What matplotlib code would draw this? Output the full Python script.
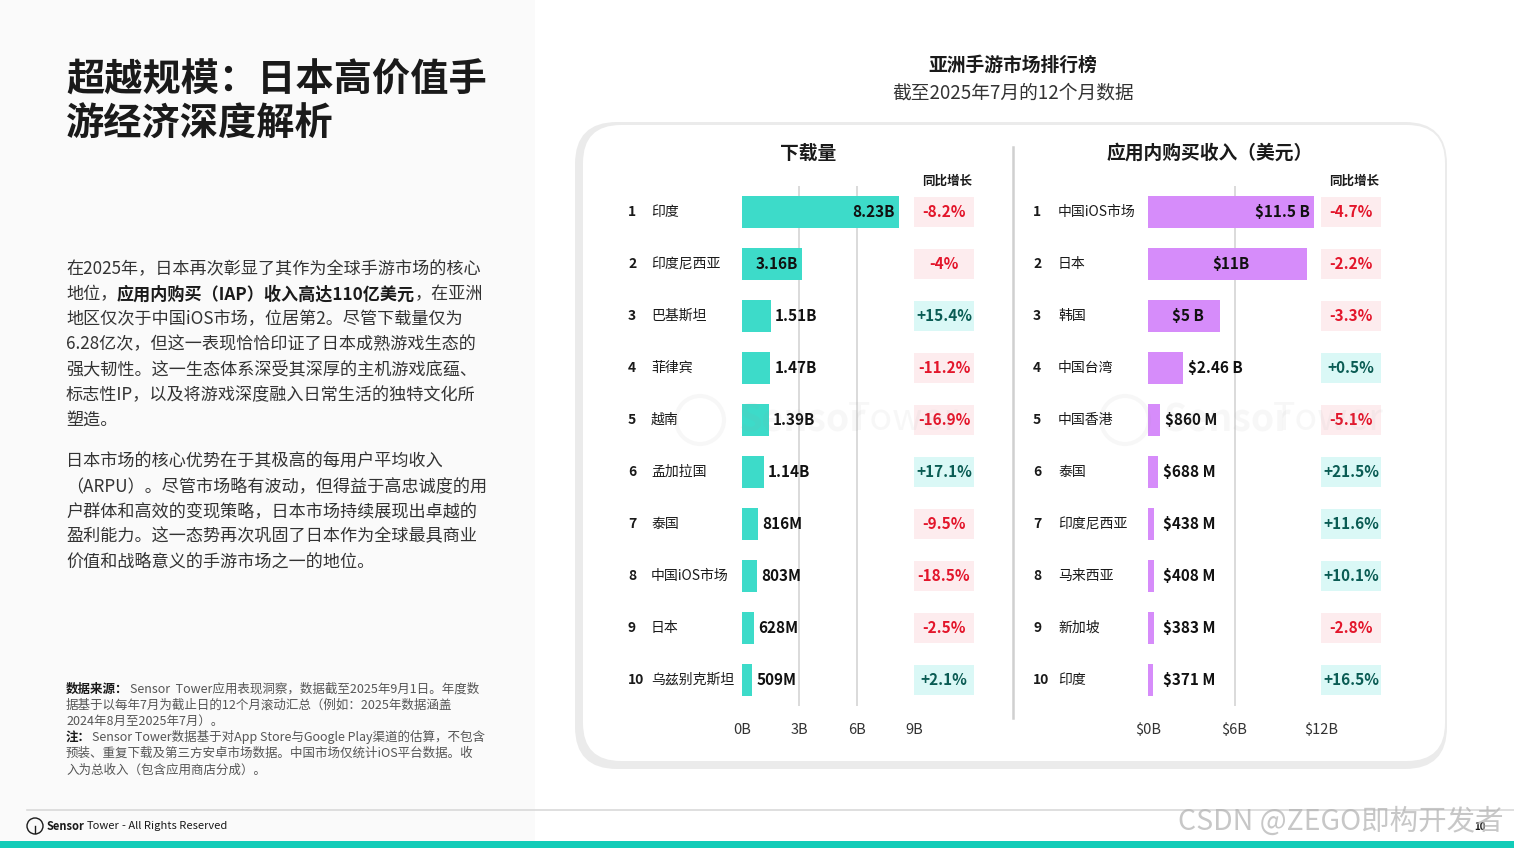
import numpy as np
import matplotlib
matplotlib.use("Agg")
import matplotlib.pyplot as plt
from matplotlib.patches import Rectangle, FancyBboxPatch, Circle
from matplotlib.transforms import blended_transform_factory

plt.rcParams['font.family'] = ['Noto Sans CJK SC', 'DejaVu Sans']

# ---- data ----
dl_names = ['印度', '印度尼西亚', '巴基斯坦', '菲律宾', '越南',
            '孟加拉国', '泰国', '中国iOS市场', '日本', '乌兹别克斯坦']
dl_values = [8.23, 3.16, 1.51, 1.47, 1.39, 1.14, 0.816, 0.803, 0.628, 0.509]
dl_labels = ['8.23B', '3.16B', '1.51B', '1.47B', '1.39B',
             '1.14B', '816M', '803M', '628M', '509M']
dl_yoy = [-8.2, -4.0, 15.4, -11.2, -16.9, 17.1, -9.5, -18.5, -2.5, 2.1]
dl_yoy_labels = ['-8.2%', '-4%', '+15.4%', '-11.2%', '-16.9%',
                 '+17.1%', '-9.5%', '-18.5%', '-2.5%', '+2.1%']
dl_ticks = [0, 3, 6, 9]
dl_tick_labels = ['0B', '3B', '6B', '9B']

rev_names = ['中国iOS市场', '日本', '韩国', '中国台湾', '中国香港',
             '泰国', '印度尼西亚', '马来西亚', '新加坡', '印度']
rev_values = [11.5, 11.0, 5.0, 2.46, 0.860, 0.688, 0.438, 0.408, 0.383, 0.371]
rev_labels = ['$11.5 B', '$11B', '$5 B', '$2.46 B', '$860 M',
              '$688 M', '$438 M', '$408 M', '$383 M', '$371 M']
rev_yoy = [-4.7, -2.2, -3.3, 0.5, -5.1, 21.5, 11.6, 10.1, -2.8, 16.5]
rev_yoy_labels = ['-4.7%', '-2.2%', '-3.3%', '+0.5%', '-5.1%',
                  '+21.5%', '+11.6%', '+10.1%', '-2.8%', '+16.5%']
rev_ticks = [0, 6, 12]
rev_tick_labels = ['$0B', '$6B', '$12B']

W, H = 1514, 848
TEAL = '#3ddbc9'
VIOLET = '#d68cfa'
NEG_BG, NEG_FG = '#fdecee', '#e3162b'
POS_BG, POS_FG = '#daf8f6', '#0a5c54'
DARK = '#1a1a1a'

fig = plt.figure(figsize=(W / 100, H / 100), dpi=100)
fig.patch.set_facecolor('white')
renderer = fig.canvas.get_renderer()

# background canvas in pixel coordinates
bg = fig.add_axes([0, 0, 1, 1], zorder=0)
bg.set_xlim(0, W)
bg.set_ylim(H, 0)
bg.axis('off')


def runs(x, y, parts, size, gap=0):
    # draw consecutive text pieces on one line, each starting where the last ended
    for text, weight, color in parts:
        t = bg.text(x, y, text, fontsize=size, fontweight=weight, color=color, va='center')
        x = x + t.get_window_extent(renderer=renderer).width + gap
    return x


bg.add_patch(Rectangle((0, 0), 535, 841, facecolor='#fafafa', edgecolor='none'))
bg.add_patch(Rectangle((0, 841), W, 7, facecolor='#12ccb8', edgecolor='none'))
bg.plot([27, W], [810, 810], color='#d9d9d9', lw=1.2)

# title
bg.text(66, 80, '超越规模：日本高价值手', fontsize=27.5, fontweight='bold', color=DARK, va='center')
bg.text(66, 124, '游经济深度解析', fontsize=27.5, fontweight='bold', color=DARK, va='center')

# body text
BODY = 12.3
para1 = ['在2025年，日本再次彰显了其作为全球手游市场的核心',
         None,
         '地区仅次于中国iOS市场，位居第2。尽管下载量仅为',
         '6.28亿次，但这一表现恰恰印证了日本成熟游戏生态的',
         '强大韧性。这一生态体系深受其深厚的主机游戏底蕴、',
         '标志性IP，以及将游戏深度融入日常生活的独特文化所',
         '塑造。']
for k, line in enumerate(para1):
    y = 269 + 25.2 * k
    if line is None:
        bg.text(66, y, '地位，', fontsize=BODY, color='#333333', va='center')
        x = runs(117, y, [('应用内购买（IAP）收入高达110亿美元', 'bold', DARK)], BODY)
        bg.text(x, y, '，在亚洲', fontsize=BODY, color='#333333', va='center')
    else:
        bg.text(66, y, line, fontsize=BODY, color='#333333', va='center')

para2 = ['日本市场的核心优势在于其极高的每用户平均收入',
         '（ARPU）。尽管市场略有波动，但得益于高忠诚度的用',
         '户群体和高效的变现策略，日本市场持续展现出卓越的',
         '盈利能力。这一态势再次巩固了日本作为全球最具商业',
         '价值和战略意义的手游市场之一的地位。']
for k, line in enumerate(para2):
    bg.text(66, 461 + 25.2 * k, line, fontsize=BODY, color='#333333', va='center')

# footnotes
fn_kw = dict(fontsize=9, color='#555555', va='center')
bg.text(66, 689, '数据来源：', fontsize=9, fontweight='bold', color=DARK, va='center')
bg.text(130, 689, 'Sensor  Tower应用表现洞察，数据截至2025年9月1日。年度数', **fn_kw)
bg.text(66, 705, '据基于以每年7月为截止日的12个月滚动汇总（例如：2025年数据涵盖', **fn_kw)
bg.text(66, 721, '2024年8月至2025年7月）。', **fn_kw)
bg.text(66, 737, '注：', fontsize=9, fontweight='bold', color=DARK, va='center')
bg.text(92, 737, 'Sensor Tower数据基于对App Store与Google Play渠道的估算，不包含', **fn_kw)
bg.text(66, 753, '预装、重复下载及第三方安卓市场数据。中国市场仅统计iOS平台数据。收', **fn_kw)
bg.text(66, 770, '入为总收入（包含应用商店分成）。', **fn_kw)

# footer
bg.add_patch(Circle((35, 826), 8, facecolor='none', edgecolor=DARK, lw=1))
bg.plot([35, 35], [826, 833], color=DARK, lw=1)
runs(47, 826, [('Sensor', 'bold', DARK), ('Tower', 'normal', DARK),
               ('- All Rights Reserved', 'normal', DARK)], 8, gap=2)
bg.text(1474, 827, '10', fontsize=7, fontweight='bold', color=DARK, va='center')

# chart title
bg.text(1013, 65, '亚洲手游市场排行榜', fontsize=13.5, fontweight='bold', color=DARK,
        ha='center', va='center')
bg.text(1013, 93, '截至2025年7月的12个月数据', fontsize=13.5, color='#333333',
        ha='center', va='center')

# card
bg.add_patch(FancyBboxPatch((575, 122), 872, 647, boxstyle='round,pad=0,rounding_size=42',
                            facecolor='#ebebeb', edgecolor='none'))
bg.add_patch(FancyBboxPatch((583, 125), 862, 636, boxstyle='round,pad=0,rounding_size=38',
                            facecolor='white', edgecolor='none'))
bg.plot([1013, 1013], [147, 718], color='#d0d0d0', lw=1.8)

bg.text(808, 153, '下载量', fontsize=13.5, fontweight='bold', color=DARK, ha='center', va='center')
bg.text(1210, 153, '应用内购买收入（美元）', fontsize=13.5, fontweight='bold', color=DARK,
        ha='center', va='center')
bg.text(947, 181, '同比增长', fontsize=9, fontweight='bold', color=DARK, ha='center', va='center')
bg.text(1354, 181, '同比增长', fontsize=9, fontweight='bold', color=DARK, ha='center', va='center')


def panel(x0, x1, xmax, names, values, labels, yoy, yoy_labels, ticks, tick_labels,
          color, rank_x, name_x, box_x, inside):
    ax = fig.add_axes([x0 / W, 1 - 706 / H, (x1 - x0) / W, 520 / H], zorder=1)
    ax.patch.set_alpha(0)
    n = len(values)
    ypos = np.arange(n)
    ax.barh(ypos, values, height=0.63, color=color, zorder=2)
    ax.set_xlim(0, xmax)
    ax.set_ylim(n - 0.5, -0.5)
    for s in ax.spines.values():
        s.set_visible(False)
    ax.set_yticks([])
    ax.set_xticks(ticks)
    ax.set_xticklabels(tick_labels, fontsize=10.5, color='#333333')
    ax.tick_params(axis='x', length=0, pad=12)
    for t in ticks[1:-1]:
        ax.axvline(t, color='#d4d4d4', lw=1.2, zorder=1)

    tr = blended_transform_factory(fig.transFigure, ax.transData)
    vmax = max(values)
    for i in range(n):
        v = values[i]
        ax.text(rank_x / W, i, str(i + 1), transform=tr, fontsize=10, fontweight='bold',
                color=DARK, va='center')
        ax.text(name_x / W, i, names[i], transform=tr, fontsize=10, color=DARK, va='center')
        mode = inside(v, vmax)
        lkw = dict(fontsize=11, fontweight='bold', color='#111111', va='center', zorder=3)
        if mode == 'right':
            ax.annotate(labels[i], (v, i), xytext=(-3, 0), textcoords='offset points',
                        ha='right', **lkw)
        elif mode == 'center':
            ax.text(v / 2 + 0.25, i, labels[i], ha='center', **lkw)
        else:
            ax.annotate(labels[i], (max(v, xmax * 0.06), i), xytext=(3, 0),
                        textcoords='offset points', ha='left', **lkw)
        neg = yoy[i] < 0
        ax.add_patch(Rectangle((box_x / W, i - 0.28), 60 / W, 0.56, transform=tr,
                               facecolor=NEG_BG if neg else POS_BG, edgecolor='none',
                               clip_on=False))
        ax.text((box_x + 30) / W, i, yoy_labels[i], transform=tr, fontsize=11,
                fontweight='bold', color=NEG_FG if neg else POS_FG,
                ha='center', va='center')
    return ax


def dl_mode(v, vmax):
    return 'right' if v > 3 else 'out'


def rev_mode(v, vmax):
    if v >= vmax * 0.99:
        return 'right'
    if v > 4:
        return 'center'
    return 'out'


panel(742, 914, 9, dl_names, dl_values, dl_labels, dl_yoy, dl_yoy_labels,
      dl_ticks, dl_tick_labels, TEAL, 628, 651, 914, dl_mode)
panel(1148, 1321, 12, rev_names, rev_values, rev_labels, rev_yoy, rev_yoy_labels,
      rev_ticks, rev_tick_labels, VIOLET, 1033, 1058, 1321, rev_mode)

# faint watermarks on top
top = fig.add_axes([0, 0, 1, 1], zorder=5)
top.set_xlim(0, W)
top.set_ylim(H, 0)
top.axis('off')
top.patch.set_alpha(0)
for cx in [700, 1125]:
    top.add_patch(Circle((cx, 420), 24, facecolor='none', edgecolor='#999999', lw=3, alpha=0.07))
    top.text(cx + 38, 420, 'Sensor', fontsize=27, fontweight='bold', color='#999999',
             alpha=0.07, va='center')
    top.text(cx + 148, 420, 'Tower', fontsize=27, color='#999999', alpha=0.07, va='center')
top.text(1178, 822, 'CSDN @ZEGO即构开发者', fontsize=20.5, color='#b0b0b0', alpha=0.7,
         va='center')

fig.savefig('out.png', dpi=100)
